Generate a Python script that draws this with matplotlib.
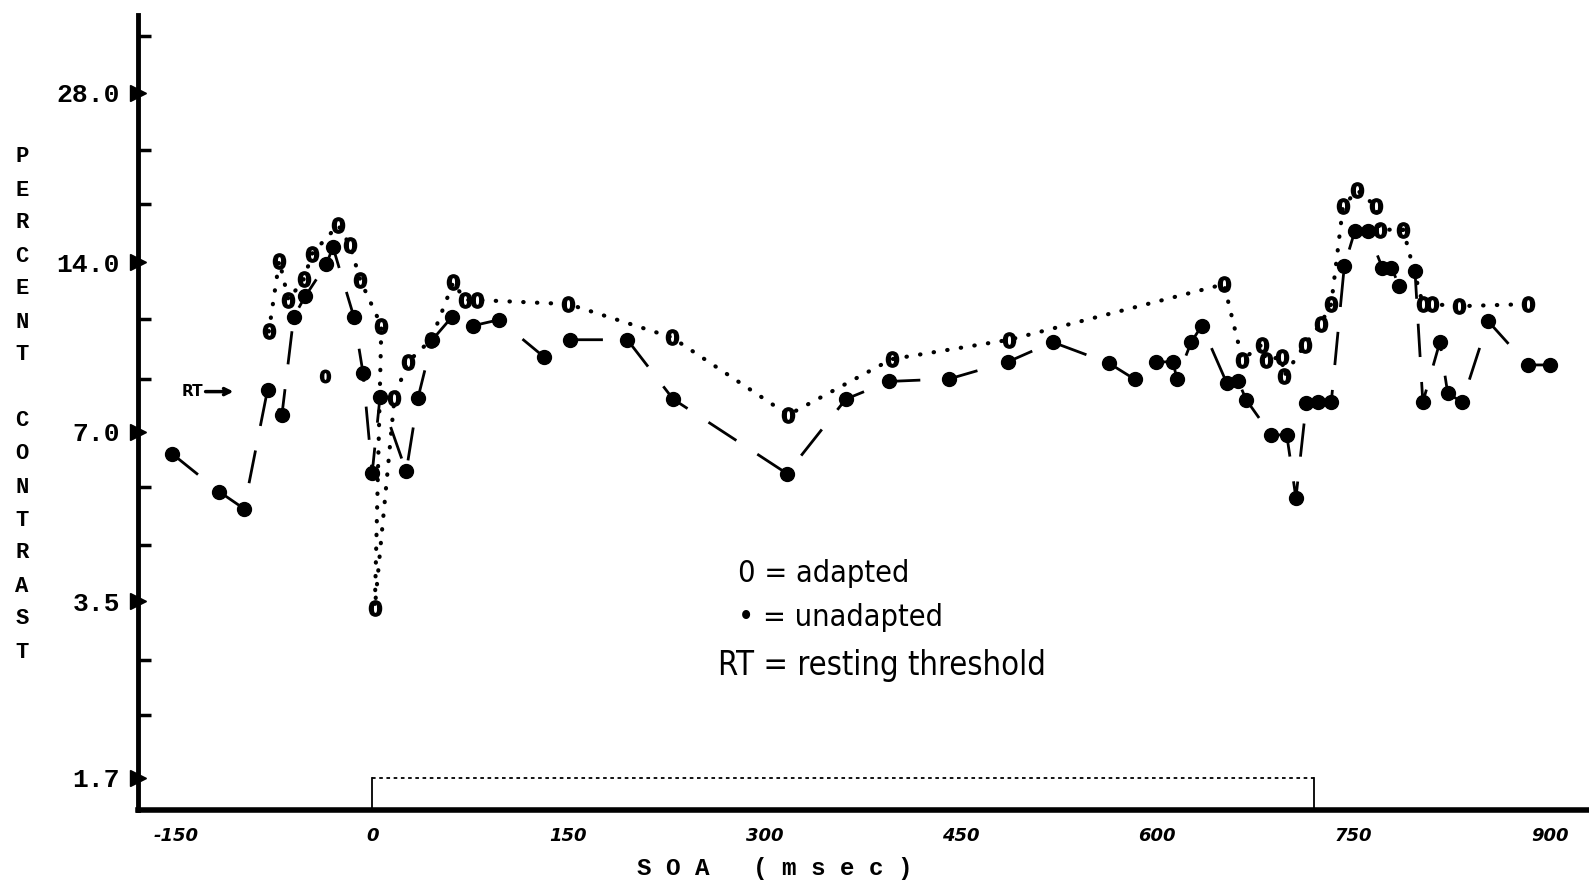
import numpy as np
import matplotlib
matplotlib.use('Agg')
import matplotlib.pyplot as plt
from matplotlib.ticker import NullFormatter

# valores (SOA em ms, contraste em %)
adapt_soa = [-79, -71, -64, -52, -46, -26, -17, -9, 7, 2, 17, 27, 45, 62, 71, 80,
             150, 229, 318, 397, 487, 651, 665, 680, 683, 695, 697, 713, 725, 733,
             742, 753, 767, 770, 788, 803, 810, 831, 883]
adapt_val = [10.55, 14.1, 12.0, 13.1, 14.5, 16.3, 15.0, 13.0, 10.8, 3.41, 8.04, 9.3, 10.2, 12.9, 12.0, 12.0,
             11.8, 10.3, 7.5, 9.42, 10.2, 12.8, 9.4, 10.0, 9.4, 9.5, 8.8, 10.0, 10.9, 11.8,
             17.6, 18.8, 17.6, 16.0, 16.0, 11.8, 11.8, 11.7, 11.8]
adapt_solto_soa = [-36]
adapt_solto_val = [8.8]

unadapt_soa = [-153, -117, -98, -80, -69, -60, -51, -35, -30, -14, -7, 0, 6, 26, 35, 46, 61, 77, 97,
               131, 151, 195, 230, 317, 362, 395, 441, 486, 520, 563, 583, 599, 612, 615, 626,
               634, 653, 662, 668, 687, 699, 706, 714, 723, 733, 743, 751, 761, 772, 779, 785,
               797, 803, 816, 822, 833, 853, 883, 900]
unadapt_val = [6.4, 5.48, 5.11, 8.31, 7.5, 11.2, 12.2, 13.9, 14.9, 11.2, 8.9, 5.92, 8.08, 5.95, 8.04, 10.2, 11.2, 10.8, 11.07,
               9.52, 10.2, 10.2, 8.0, 5.9, 8.0, 8.6, 8.69, 9.32, 10.1, 9.27, 8.67, 9.3, 9.33, 8.69, 10.1,
               10.8, 8.56, 8.6, 7.98, 6.91, 6.91, 5.34, 7.89, 7.9, 7.9, 13.8, 15.9, 15.9, 13.7, 13.7, 12.7,
               13.5, 7.9, 10.1, 8.2, 7.9, 11.0, 9.2, 9.2]

y_ticks = [1.7, 3.5, 7.0, 14.0, 28.0]
y_ticklabels = ['1.7', '3.5', '7.0', '14.0', '28.0']
y_minor = [2.2, 2.75, 4.4, 5.58, 8.7, 11.1, 17.8, 22.2, 35.4]
x_ticks = [-150, 0, 150, 300, 450, 600, 750, 900]
x_ticklabels = ['-150', '0', '150', '300', '450', '600', '750', '900']
estimulo = [0, 720]
rt_valor = 8.25

fig = plt.figure(figsize=(15.89, 8.84), dpi=100)
ax = fig.add_axes([138/1589, 1 - 810/884, 1 - 138/1589, (810 - 15)/884])
ax.set_yscale('log')
ax.set_xlim(-179, 930)
ax.set_ylim(1.49, 38.5)

# linhas
ax.plot(adapt_soa, adapt_val, color='black', lw=3, ls=(0, (0.1, 3.2)),
        dash_capstyle='round', zorder=2)
ax.plot(unadapt_soa, unadapt_val, color='black', lw=2, ls=(0, (12, 9)), zorder=2)

# marcadores
ax.plot(adapt_soa, adapt_val, ls='none', marker=r'$\mathbf{0}$', markersize=11,
        color='black', zorder=3)
ax.plot(adapt_solto_soa, adapt_solto_val, ls='none', marker=r'$\mathbf{0}$', markersize=9,
        color='black', zorder=3)
ax.plot(unadapt_soa, unadapt_val, ls='none', marker='o', markersize=10,
        color='black', zorder=3)

# caixa do estimulo
ax.plot([estimulo[0], estimulo[0]], [1.49, 1.7], color='black', lw=1.3, clip_on=False)
ax.plot([estimulo[1], estimulo[1]], [1.49, 1.7], color='black', lw=1.3, clip_on=False)
ax.plot(estimulo, [1.7, 1.7], color='black', lw=1.3, ls=(0, (2, 2)))

# eixos
for lado in ['top', 'right']:
    ax.spines[lado].set_visible(False)
ax.spines['left'].set_linewidth(3.5)
ax.spines['bottom'].set_linewidth(4)

ax.set_yticks(y_ticks)
ax.set_yticklabels(y_ticklabels, family='Liberation Mono', fontweight='bold', fontsize=19)
ax.set_yticks(y_minor, minor=True)
ax.yaxis.set_minor_formatter(NullFormatter())
ax.tick_params(axis='y', which='major', length=0, pad=13)
ax.tick_params(axis='y', which='minor', direction='in', length=9, width=2.5)
ax.plot(np.zeros(len(y_ticks)), y_ticks, ls='none', marker='>', markersize=11,
        color='black', transform=ax.get_yaxis_transform(), clip_on=False, zorder=5)

ax.set_xticks(x_ticks)
ax.set_xticklabels(x_ticklabels, family='DejaVu Sans',
                   fontweight='bold', style='italic', fontsize=13)
ax.tick_params(axis='x', length=0, pad=12)

# titulo do eixo y, letra por letra
rotulo = 'PERCENT CONTRAST'
y0 = 157
for i, letra in enumerate(rotulo):
    if letra != ' ':
        fig.text(22/1589, 1 - (y0 + i*33)/884, letra, family='Liberation Mono',
                 fontweight='bold', fontsize=16, ha='center', va='center')

fig.text(775/1589, 1 - 868/884, 'S O A   ( m s e c )', family='Liberation Mono',
         fontweight='bold', fontsize=17.5, ha='center', va='center')

# RT
ax.annotate('RT', xy=(-106, rt_valor), xytext=(-146, rt_valor), va='center',
            fontsize=11, fontweight='bold', family='DejaVu Sans',
            arrowprops=dict(arrowstyle='->', lw=2.5, color='black', shrinkA=0, shrinkB=0))

# legenda escrita
fig.text(738/1589, 1 - 573/884, '0 = adapted', family='DejaVu Sans', fontstretch='condensed',
         fontsize=22, va='center')
fig.text(738/1589, 1 - 618/884, '\u2022 = unadapted', family='DejaVu Sans', fontstretch='condensed',
         fontsize=22, va='center')
fig.text(718/1589, 1 - 666/884, 'RT = resting threshold', family='DejaVu Sans', fontstretch='condensed',
         fontsize=23.5, va='center')

plt.savefig('out.png', dpi=100)
plt.close()
